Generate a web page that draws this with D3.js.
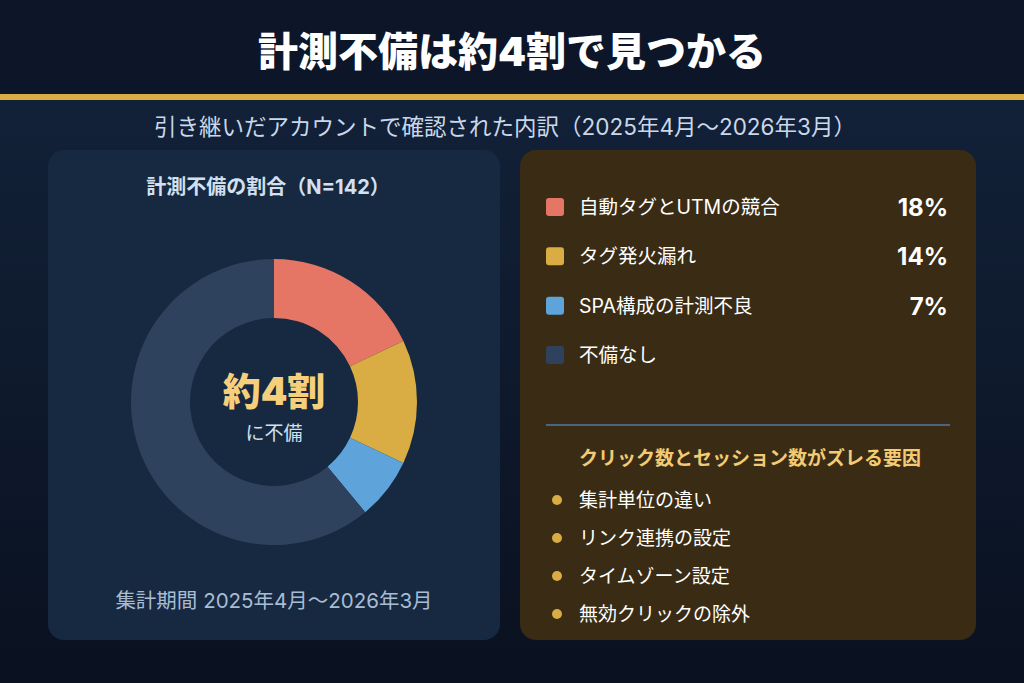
<!DOCTYPE html>
<html><head><meta charset="utf-8">
<script src="https://cdn.jsdelivr.net/npm/d3@7"></script>
<style>
html,body{margin:0;padding:0;background:#0b1526;}
svg{display:block;font-family:Inter,"Noto Sans CJK JP","Noto Sans",sans-serif;}
</style></head>
<body>
<svg id="c" width="1024" height="683"></svg>
<script>
const categories = ["自動タグとUTMの競合","タグ発火漏れ","SPA構成の計測不良","不備なし"];
const values = [18, 14, 7, 61];
const pctLabels = ["18%","14%","7%",""];
const colors = ["#e57666","#d9ad43","#5ea4da","#2f425d"];
const factors = ["集計単位の違い","リンク連携の設定","タイムゾーン設定","無効クリックの除外"];

const svg = d3.select("#c");
const defs = svg.append("defs");
const g = defs.append("linearGradient").attr("id","bg").attr("x1",0).attr("y1",0).attr("x2",0).attr("y2",1);
g.append("stop").attr("offset","0%").attr("stop-color","#13243c");
g.append("stop").attr("offset","100%").attr("stop-color","#0a1120");

svg.append("rect").attr("width",1024).attr("height",683).attr("fill","url(#bg)");
svg.append("rect").attr("width",1024).attr("height",95).attr("fill","#0c1628");
svg.append("rect").attr("y",94).attr("width",1024).attr("height",6).attr("fill","#d9ac45");

svg.append("text").attr("x",512).attr("y",66).attr("text-anchor","middle")
  .attr("fill","#ffffff").attr("font-size",40).attr("font-weight",900).text("計測不備は約4割で見つかる");
svg.append("text").attr("x",505).attr("y",135).attr("text-anchor","middle")
  .attr("fill","#c9d8ea").attr("font-size",22.5).text("引き継いだアカウントで確認された内訳（2025年4月〜2026年3月）");

// Left panel
svg.append("rect").attr("x",48).attr("y",150).attr("width",452).attr("height",490).attr("rx",16).attr("fill","#172941");
svg.append("text").attr("x",268).attr("y",194).attr("text-anchor","middle")
  .attr("fill","#d3e0f0").attr("font-size",20).attr("font-weight",700).text("計測不備の割合（N=142）");

const cx = 274, cy = 402;
const pie = d3.pie().sort(null).value(d=>d)(values);
const arc = d3.arc().innerRadius(84).outerRadius(143);
const dg = svg.append("g").attr("transform",`translate(${cx},${cy})`);
dg.selectAll("path").data(pie).join("path").attr("d",arc).attr("fill",(d,i)=>colors[i]);

svg.append("text").attr("x",cx).attr("y",405).attr("text-anchor","middle")
  .attr("fill","#f5cf7c").attr("font-size",38).attr("font-weight",900).text("約4割");
svg.append("text").attr("x",cx).attr("y",440).attr("text-anchor","middle")
  .attr("fill","#d3e0f0").attr("font-size",19).text("に不備");

svg.append("text").attr("x",274).attr("y",608).attr("text-anchor","middle")
  .attr("fill","#a8bcd3").attr("font-size",20.5).text("集計期間 2025年4月〜2026年3月");

// Right panel
svg.append("rect").attr("x",520).attr("y",150).attr("width",456).attr("height",490).attr("rx",16).attr("fill","#3a2c14");
const rowY = d3.scalePoint().domain(categories).range([207,355]);
const lg = svg.append("g");
categories.forEach((c,i)=>{
  const y = rowY(c);
  lg.append("rect").attr("x",546).attr("y",y-9).attr("width",18).attr("height",18).attr("rx",3).attr("fill",colors[i]);
  lg.append("text").attr("x",579).attr("y",y+7).attr("fill","#ffffff").attr("font-size",19.5).text(c);
  if (pctLabels[i]) lg.append("text").attr("x",948).attr("y",y+9).attr("text-anchor","end")
    .attr("fill","#ffffff").attr("font-size",24).attr("font-weight",700).text(pctLabels[i]);
});

svg.append("rect").attr("x",546).attr("y",424).attr("width",404).attr("height",2).attr("fill","#4b6482");
svg.append("text").attr("x",579).attr("y",465).attr("fill","#f2cb74").attr("font-size",19).attr("font-weight",700)
  .text("クリック数とセッション数がズレる要因");
const fy = d3.scalePoint().domain(factors).range([500,614]);
factors.forEach(f=>{
  const y = fy(f);
  svg.append("circle").attr("cx",557).attr("cy",y).attr("r",5).attr("fill","#d9ac45");
  svg.append("text").attr("x",579).attr("y",y+7).attr("fill","#ffffff").attr("font-size",19).text(f);
});
</script>
</body></html>
